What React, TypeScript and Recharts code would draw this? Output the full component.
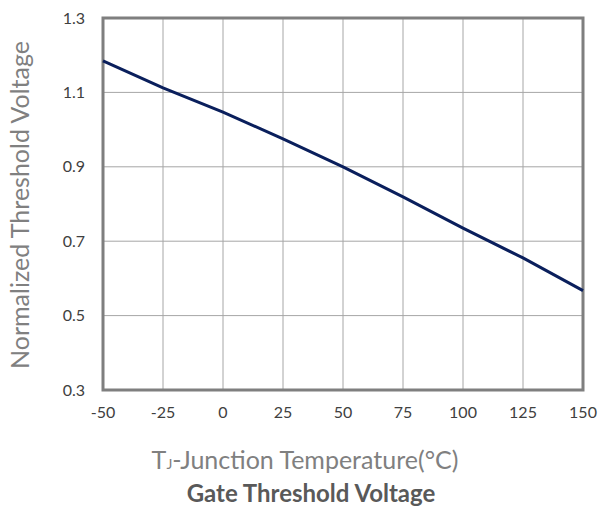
import { LineChart, Line, XAxis, YAxis, CartesianGrid, ReferenceArea } from 'recharts';

const temps = [-50, -25, 0, 25, 50, 75, 100, 125, 150];
const vthNorm = [1.185, 1.112, 1.047, 0.975, 0.9, 0.819, 0.735, 0.655, 0.567];
const xTicks = [-50, -25, 0, 25, 50, 75, 100, 125, 150];
const yTicks = [0.3, 0.5, 0.7, 0.9, 1.1, 1.3];

const data = temps.map((t, i) => ({ t, v: vthNorm[i] }));

const font = 'Lato, sans-serif';

export default function App() {
  return (
    <div style={{ position: 'absolute', left: 0, top: 0, width: 600, height: 509, background: '#fff', fontFamily: font }}>
      <LineChart width={600} height={509} data={data} margin={{ top: 18, right: 17, bottom: 89, left: 0 }}>
        <CartesianGrid stroke="#a6a6a6" strokeWidth={1} />
        <XAxis
          dataKey="t"
          type="number"
          domain={[-50, 150]}
          ticks={xTicks}
          height={30}
          tickSize={0}
          tickMargin={17}
          axisLine={false}
          tick={{ fill: '#404040', fontSize: 16, fontFamily: font }}
        />
        <YAxis
          type="number"
          domain={[0.3, 1.3]}
          ticks={yTicks}
          width={103}
          tickSize={0}
          tickMargin={18}
          axisLine={false}
          tickFormatter={(v: number) => v.toFixed(1)}
          tick={{ fill: '#404040', fontSize: 16, fontFamily: font }}
        />
        <ReferenceArea x1={-50} x2={150} y1={0.3} y2={1.3} fill="none" stroke="#7f7f7f" strokeWidth={3} />
        <Line
          type="linear"
          dataKey="v"
          stroke="#0a1f5c"
          strokeWidth={3}
          dot={false}
          isAnimationActive={false}
        />
      </LineChart>
      <div
        style={{
          position: 'absolute',
          left: 19,
          top: 205,
          transform: 'translate(-50%, -50%) rotate(-90deg)',
          whiteSpace: 'nowrap',
          fontSize: 25,
          color: '#808080',
        }}
      >
        Normalized Threshold Voltage
      </div>
      <div
        style={{
          position: 'absolute',
          left: 305,
          top: 459,
          transform: 'translate(-50%, -50%)',
          whiteSpace: 'nowrap',
          fontSize: 25,
          color: '#808080',
        }}
      >
        T<span style={{ fontSize: 14 }}>J</span>-Junction Temperature(°C)
      </div>
      <div
        style={{
          position: 'absolute',
          left: 311,
          top: 492,
          transform: 'translate(-50%, -50%)',
          whiteSpace: 'nowrap',
          fontSize: 24,
          fontWeight: 'bold',
          color: '#595959',
        }}
      >
        Gate Threshold Voltage
      </div>
    </div>
  );
}
